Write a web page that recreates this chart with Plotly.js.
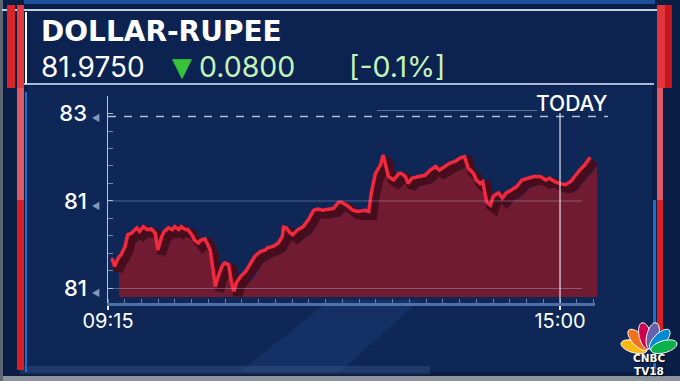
<!DOCTYPE html>
<html><head><meta charset="utf-8">
<script src="https://cdn.plot.ly/plotly-3.0.1.min.js"></script>
<style>html,body{margin:0;padding:0;background:#0a1e46;overflow:hidden}#chart{width:680px;height:381px}</style>
</head><body><div id="chart"></div>
<script>
// ---- data ----
const times = ['09:18','09:20','09:23','09:25','09:28','09:30','09:33','09:37','09:39','09:42',
'09:45','09:48','09:51','09:53','09:56','09:58','10:01','10:04','10:06','10:09',
'10:11','10:14','10:16','10:19','10:21','10:24','10:26','10:29','10:33','10:35',
'10:37','10:39','10:42','10:44','10:47','10:49','10:51','10:53','10:56','11:00',
'11:03','11:07','11:11','11:15','11:17','11:21','11:25','11:28','11:29','11:31',
'11:34','11:36','11:40','11:44','11:48','11:52','11:55','11:59','12:03','12:07',
'12:11','12:13','12:17','12:22','12:26','12:31','12:34','12:36','12:39','12:43',
'12:45','12:46','12:49','12:53','12:57','12:59','13:02','13:04','13:07','13:12',
'13:17','13:21','13:25','13:28','13:32','13:36','13:40','13:44','13:47','13:50',
'13:54','13:56','13:59','14:01','14:04','14:07','14:09','14:13','14:16','14:19',
'14:23','14:27','14:31','14:35','14:40','14:45','14:49','14:52','14:56','15:00',
'15:04','15:08','15:11','15:15','15:19','15:23'];
const rates = [81.802,81.788,81.803,81.808,81.822,81.842,81.845,81.854,81.848,81.856,
81.851,81.852,81.845,81.816,81.839,81.848,81.854,81.851,81.856,81.851,
81.856,81.851,81.851,81.842,81.833,81.828,81.833,81.835,81.816,81.782,
81.753,81.770,81.788,81.794,81.791,81.764,81.745,81.760,81.770,81.779,
81.791,81.805,81.813,81.816,81.820,81.822,81.828,81.839,81.855,81.854,
81.845,81.842,81.851,81.856,81.868,81.884,81.886,81.884,81.886,81.887,
81.898,81.898,81.893,81.884,81.882,81.884,81.882,81.914,81.947,81.962,
81.979,81.971,81.942,81.936,81.947,81.947,81.942,81.930,81.939,81.942,
81.944,81.953,81.959,81.953,81.959,81.965,81.968,81.974,81.976,81.956,
81.947,81.936,81.930,81.933,81.898,81.893,81.908,81.914,81.905,81.914,
81.919,81.925,81.936,81.939,81.942,81.942,81.936,81.939,81.933,81.930,
81.928,81.933,81.942,81.953,81.962,81.975];
const yTickVals = [81.75, 81.90, 82.05];
const yTickText = ['81', '81', '83'];
const xTickTimes = ['09:15', '15:00'];
const titleText = 'DOLLAR-RUPEE';
const lastPrice = '81.9750';
const changeText = '0.0800';
const changePct = '[-0.1%]';
const dashedLevel = 82.045;
const todayTime = '15:00';
const todayLabel = 'TODAY';
const logoLines = ['CNBC', 'TV18'];

// ---- helpers ----
const W = 680, H = 381;
const px = p => p / W;
const py = p => 1 - p / H;
const toMin = t => { const [h, m] = t.split(':').map(Number); return h * 60 + m - (9 * 60 + 15); };
const xs = times.map(toMin);
const xRange = [0, 371.7];
const yRangeMain = [81.7251, 82.08];

const traces = [
  {x: xs, y: rates, xaxis: 'x', yaxis: 'y', mode: 'lines', line: {width: 0, color: '#731c32'},
   fill: 'tozeroy', fillcolor: 'rgba(118,27,49,0.96)', hoverinfo: 'skip'},
  {x: xs, y: rates, xaxis: 'x2', yaxis: 'y2', mode: 'lines', line: {width: 9, color: '#480d1d'}, hoverinfo: 'skip'},
  {x: xs, y: rates, xaxis: 'x3', yaxis: 'y3', mode: 'lines', line: {width: 3.5, color: '#f2283f'}, hoverinfo: 'skip'}
];

const fontMain = 'Inter, "Open Sans", sans-serif';
const arrow = '<span style="font-size:9px;color:#8796b5">  ◀</span>';

// peacock petals
function petal(cx, cy, angDeg, len, wid, color) {
  const a = angDeg * Math.PI / 180;
  const ux = Math.sin(a), uy = -Math.cos(a);
  const vx = -uy, vy = ux;
  const ccx = cx + ux * (len / 2 + 2), ccy = cy + uy * (len / 2 + 2);
  let d = '';
  for (let i = 0; i <= 36; i++) {
    const t = i / 36 * 2 * Math.PI;
    const X = ccx + ux * (len / 2) * Math.cos(t) + vx * (wid / 2) * Math.sin(t);
    const Y = ccy + uy * (len / 2) * Math.cos(t) + vy * (wid / 2) * Math.sin(t);
    d += (i === 0 ? 'M' : 'L') + px(X).toFixed(5) + ',' + py(Y).toFixed(5);
  }
  return {type: 'path', xref: 'paper', yref: 'paper', path: d + 'Z', fillcolor: color,
          line: {color: '#ffffff', width: 1}, layer: 'above'};
}
const petalColors = ['#fcb711', '#f37021', '#cc004c', '#6460aa', '#0089d0', '#0db14b'];
const petalAngles = [-74, -44, -14, 14, 44, 74];

const rect = (x0, y0, x1, y1, color, layer) => ({type: 'rect', xref: 'paper', yref: 'paper',
  x0: px(x0), x1: px(x1), y0: py(y1), y1: py(y0), fillcolor: color, line: {width: 0}, layer: layer || 'below'});
const hline = (x0, x1, y, color, width, dash) => ({type: 'line', xref: 'paper', yref: 'paper',
  x0: px(x0), x1: px(x1), y0: py(y), y1: py(y), line: {color: color, width: width, dash: dash || 'solid'}, layer: 'above'});

const shapes = [
  // backgrounds
  rect(0, 0, 680, 381, '#0a1d44'),
  rect(24, 0, 655, 4, '#1c4f9c'),
  rect(26, 11, 660, 84, '#0c2250'),
  rect(28, 86, 652, 372, '#0e2757'),
  {type: 'path', xref: 'paper', yref: 'paper', layer: 'below', line: {width: 0}, fillcolor: 'rgba(60,100,170,0.16)',
   path: 'M' + px(240) + ',' + py(372) + 'L' + px(330) + ',' + py(300) + 'L' + px(420) + ',' + py(300) + 'L' + px(340) + ',' + py(372) + 'Z'},
  rect(20, 366, 430, 374, 'rgba(130,160,210,0.16)'),
  rect(0, 376, 680, 381, '#8c939c'),
  rect(0, 0, 3, 381, '#5e6674'),
  // header frame lines
  hline(2, 672, 10, '#c3cfe3', 2),
  hline(20, 654, 84, '#a8bad8', 2),
  {type: 'line', xref: 'paper', yref: 'paper', x0: px(26), x1: px(26), y0: py(12), y1: py(84),
   line: {color: '#ffffff', width: 2}, layer: 'above'},
  // red / blue bars left
  rect(7, 5, 15, 88, '#d8252c', 'above'),
  rect(17, 5, 24, 88, '#e23a3f', 'above'),
  rect(17, 88, 24, 200, '#df5a66', 'above'),
  rect(17, 200, 24, 370, '#d61f27', 'above'),
  rect(25, 92, 27, 372, '#1f6fd0', 'above'),
  // red / blue bars right
  rect(657, 5, 665, 88, '#e0353b', 'above'),
  rect(665, 5, 672, 88, '#c8161e', 'above'),
  rect(657, 88, 663, 200, '#df5a66', 'above'),
  rect(657, 200, 663, 330, '#d61f27', 'above'),
  rect(653, 200, 656, 376, '#1f6fd0', 'above'),
  // dashed reference line
  {type: 'line', xref: 'paper', yref: 'y3', x0: px(108), x1: px(608), y0: dashedLevel, y1: dashedLevel,
   line: {color: 'rgba(215,225,240,0.8)', width: 1.5, dash: '8px,8px'}, layer: 'above'},
  hline(377, 537, 110.5, 'rgba(190,205,230,0.45)', 1),
  // today vertical line
  {type: 'line', xref: 'x3', yref: 'paper', x0: toMin(todayTime), x1: toMin(todayTime), y0: py(303), y1: py(113),
   line: {color: 'rgba(235,240,250,0.75)', width: 1.5}, layer: 'above'},
];
// gridlines for the two lower ticks
yTickVals.slice(0, 2).forEach(v => shapes.push({type: 'line', xref: 'x3', yref: 'y3',
  x0: 0, x1: xs[xs.length - 1] - 6, y0: v, y1: v, line: {color: 'rgba(195,210,235,0.35)', width: 1}, layer: 'above'}));
petalAngles.forEach((a, i) => shapes.push(petal(649, 351, a, 27, 12, petalColors[i])));

const ann = (text, x, y, size, color, opts) => Object.assign({text: text, xref: 'paper', yref: 'paper',
  x: px(x), y: py(y), showarrow: false, xanchor: 'left', yanchor: 'middle',
  font: {family: fontMain, size: size, color: color}}, opts || {});

const logoFont = {family: 'DejaVu Sans', size: 10.5, color: '#ffffff', weight: 700, shadow: '1px 1px 1px #000'};
const annotations = [
  ann(titleText, 39, 31.5, 28, '#ffffff', {font: {family: 'DejaVu Sans', size: 28, color: '#ffffff', weight: 700}}),
  ann(lastPrice, 39, 66.5, 28, '#ffffff'),
  ann('▼', 170, 66.5, 26, '#38c43a', {font: {family: 'DejaVu Sans', size: 26, color: '#38c43a'}}),
  ann(changeText, 197, 66.5, 28.5, '#c4f3b8'),
  ann(changePct, 347, 66.5, 28.5, '#c4f3b8'),
  ann(todayLabel, 534, 103, 21, '#ffffff', {font: {family: fontMain, size: 21, color: '#ffffff', weight: 500}}),
  ann(logoLines[0], 648.5, 357.5, 10.5, '#ffffff', {xanchor: 'center', font: logoFont}),
  ann(logoLines[1], 648.5, 370.5, 10.5, '#ffffff', {xanchor: 'center', font: logoFont})
];

const hidden = {visible: false, fixedrange: true};
const layout = {
  width: W, height: H, margin: {l: 0, r: 0, t: 0, b: 0},
  paper_bgcolor: '#0a1d44', plot_bgcolor: 'rgba(0,0,0,0)', showlegend: false,
  xaxis: Object.assign({domain: [px(115), px(602)], range: xRange, anchor: 'y'}, hidden),
  yaxis: Object.assign({domain: [py(297), py(104)], range: [81.7474 + 0.0017, 82.08], anchor: 'x'}, hidden),
  xaxis2: Object.assign({domain: [px(112), px(599)], range: xRange, anchor: 'y2'}, hidden),
  yaxis2: Object.assign({domain: [py(307), py(100)], range: yRangeMain, anchor: 'x2'}, hidden),
  xaxis3: {domain: [px(108), px(595)], range: xRange, anchor: 'y3', fixedrange: true,
    showline: true, linecolor: 'rgba(120,160,220,0.6)', linewidth: 3, zeroline: false, showgrid: false,
    tickmode: 'array', tickvals: xTickTimes.map(toMin), ticktext: xTickTimes,
    ticks: 'outside', ticklen: 4, tickwidth: 2, tickcolor: '#e8eef8', ticklabelstandoff: -6,
    tickfont: {family: fontMain, size: 20, color: '#ffffff'},
    minor: {tick0: 0, dtick: 12.78, ticks: 'inside', ticklen: 4, tickwidth: 1, tickcolor: 'rgba(170,195,235,0.55)'}},
  yaxis3: {domain: [py(303), py(96)], range: yRangeMain, anchor: 'x3', fixedrange: true,
    showline: true, linecolor: 'rgba(225,232,245,0.8)', linewidth: 1.5, zeroline: false, showgrid: false,
    tickmode: 'array', tickvals: yTickVals, ticktext: yTickText.map(t => t + arrow),
    ticks: 'inside', ticklen: 5, tickwidth: 1, tickcolor: 'rgba(200,212,235,0.55)',
    ticklabelstandoff: 2,
    tickfont: {family: fontMain, size: 22, color: '#ffffff', weight: 500},
    minor: {tick0: 81.75, dtick: 0.03, ticks: 'inside', ticklen: 5, tickwidth: 1, tickcolor: 'rgba(200,212,235,0.55)'}},
  shapes: shapes,
  annotations: annotations
};

Plotly.newPlot('chart', traces, layout, {staticPlot: true, displayModeBar: false});
</script>
</body></html>
